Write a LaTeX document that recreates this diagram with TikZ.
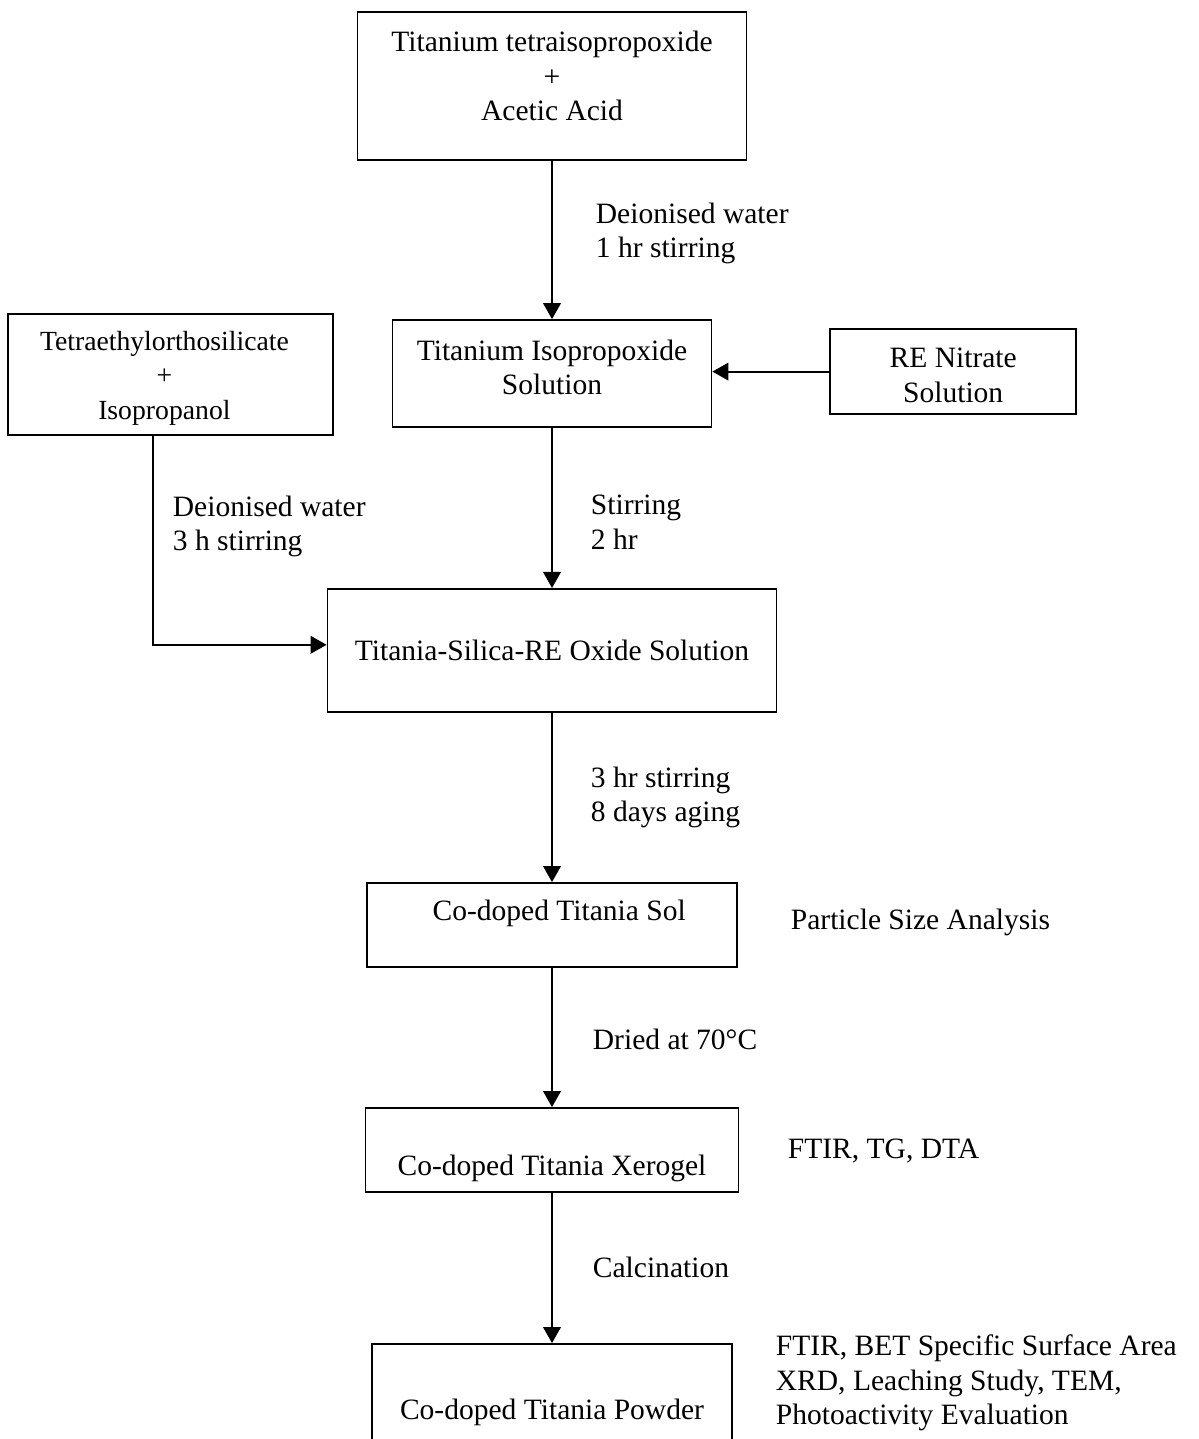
\documentclass[tikz,border=0pt]{standalone}
\usepackage{fontspec}
\setmainfont{Liberation Serif}
\usetikzlibrary{arrows.meta}

\newcommand{\flowfont}{\fontsize{21pt}{24.5pt}\selectfont}

\begin{document}
\begin{tikzpicture}[
    line width=1.3pt,
    >={Triangle[length=4mm, width=4.4mm]},
    box/.style={draw, inner sep=0pt},
    txt/.style={font=\flowfont, align=center, inner sep=0pt},
    note/.style={font=\flowfont, align=left, inner sep=0pt, anchor=west}
]

\useasboundingbox (0, 0) rectangle (29.975, -35.975);

% Boxes
\node[box, minimum width=9.725cm, minimum height=3.7cm,
    label={[txt, yshift=0.25cm]center:{Titanium tetraisopropoxide\\+\\Acetic Acid}}]
    (tta) at (13.8, -2.15) {};

\node[box, minimum width=7.975cm, minimum height=2.675cm,
    label={[txt, yshift=0.16cm]center:{Titanium Isopropoxide\\Solution}}]
    (tip) at (13.8, -9.34) {};

\node[box, minimum width=6.15cm, minimum height=2.125cm,
    label={[txt, yshift=-0.09cm]center:{RE Nitrate\\Solution}}]
    (ren) at (23.83, -9.29) {};

\node[box, minimum width=8.125cm, minimum height=3.025cm,
    label={[txt, font=\fontsize{19.7pt}{24.5pt}\selectfont, xshift=-0.15cm, yshift=-0.09cm]center:{Tetraethylorthosilicate\\+\\Isopropanol}}]
    (teos) at (4.26, -9.36) {};

\node[box, minimum width=11.225cm, minimum height=3.075cm,
    label={[txt]center:{Titania-Silica-RE Oxide Solution}}]
    (tsr) at (13.8, -16.26) {};

\node[box, minimum width=9.25cm, minimum height=2.1cm,
    label={[txt, xshift=0.18cm, yshift=0.3cm]center:{Co-doped Titania Sol}}]
    (sol) at (13.8, -23.125) {};

\node[box, minimum width=9.325cm, minimum height=2.1cm,
    label={[txt, yshift=-0.45cm]center:{Co-doped Titania Xerogel}}]
    (xer) at (13.8, -28.75) {};

\node[box, minimum width=9cm, minimum height=3.4cm,
    label={[txt]center:{Co-doped Titania Powder}}]
    (pow) at (13.8, -35.3) {};

% Arrows
\draw[->] (tta.south) -- (tip.north);
\draw[->] (ren.west) -- (ren.west -| tip.east);
\draw[->] (tip.south) -- (tsr.north);
\draw[->] ([xshift=-0.44cm]teos.south) |- ([yshift=0.14cm]tsr.west);
\draw[->] (tsr.south) -- (sol.north);
\draw[->] (sol.south) -- (xer.north);
\draw[->] (xer.south) -- (pow.north);

% Conditions
\node[note] (cond1) at (14.875, -5.84) {Deionised water\\1 hr stirring};
\node[note] (cond2) at (4.3, -13.16) {Deionised water\\3 h stirring};
\node[note] (cond3) at (14.75, -13.06) {Stirring\\2 hr};
\node[note] (cond4) at (14.75, -19.93) {3 hr stirring\\8 days aging};
\node[note] (cond5) at (14.8, -25.98) {Dried at 70°C};
\node[note] (cond6) at (14.8, -31.68) {Calcination};

% Characterisation
\node[note] (char1) at (19.75, -23.05) {Particle Size Analysis};
\node[note] (char2) at (19.675, -28.78) {FTIR, TG, DTA};
\node[note] (char3) at (19.375, -34.58) {FTIR, BET Specific Surface Area\\XRD, Leaching Study, TEM,\\Photoactivity Evaluation};

\end{tikzpicture}
\end{document}
